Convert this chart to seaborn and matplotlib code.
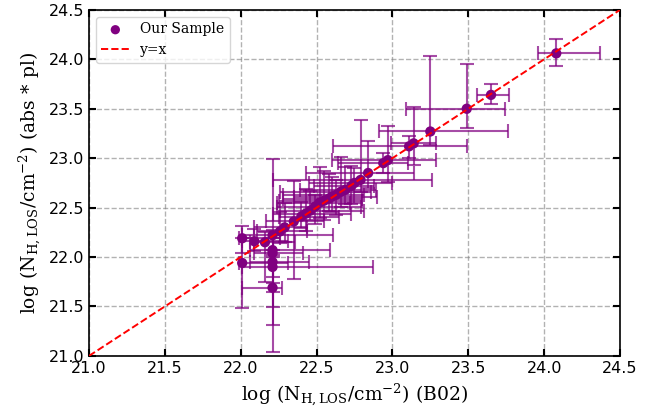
import matplotlib
matplotlib.use("Agg")
import matplotlib.pyplot as plt
import seaborn as sns
import numpy as np
import pandas as pd

# data (log N_H)
x_b02 = [24.08, 23.65, 23.49, 23.25, 23.14, 23.11, 22.97, 22.94, 22.84, 22.79,
         22.73, 22.69, 22.63, 22.58, 22.52, 22.49, 22.46, 22.40, 22.35, 22.29,
         22.26, 22.21, 22.16, 22.09, 22.01, 22.21, 22.21, 22.01, 22.21, 22.21,
         22.21, 22.55, 22.60, 22.66, 22.75, 22.43]
y_abspl = [24.06, 23.64, 23.50, 23.27, 23.15, 23.12, 22.98, 22.95, 22.85, 22.78,
           22.72, 22.68, 22.63, 22.59, 22.55, 22.51, 22.47, 22.41, 22.36, 22.30,
           22.26, 22.22, 22.15, 22.16, 22.19, 22.07, 22.04, 21.94, 21.95, 21.90,
           21.69, 22.57, 22.61, 22.66, 22.75, 22.44]
x_err_lo = [0.12, 0.09, 0.40, 0.34, 0.15, 0.50, 0.37, 0.30, 0.41, 0.58,
            0.25, 0.30, 0.35, 0.30, 0.28, 0.25, 0.20, 0.15, 0.18, 0.20,
            0.15, 0.20, 0.10, 0.08, 0.02, 0.15, 0.12, 0.02, 0.15, 0.20,
            0.20, 0.30, 0.25, 0.40, 0.30, 0.22]
x_err_hi = [0.29, 0.12, 0.25, 0.51, 0.15, 0.38, 0.32, 0.16, 0.30, 0.47,
            0.15, 0.20, 0.18, 0.22, 0.20, 0.30, 0.35, 0.25, 0.20, 0.15,
            0.18, 0.40, 0.20, 0.22, 0.25, 0.38, 0.20, 0.30, 0.24, 0.66,
            0.06, 0.25, 0.30, 0.20, 0.25, 0.30]
y_err_lo = [0.13, 0.09, 0.19, 0.14, 0.22, 0.12, 0.22, 0.10, 0.15, 0.12,
            0.18, 0.14, 0.20, 0.12, 0.15, 0.18, 0.10, 0.12, 0.58, 0.15,
            0.12, 0.20, 0.40, 0.10, 0.15, 0.27, 0.39, 0.46, 0.46, 0.59,
            0.65, 0.20, 0.15, 0.15, 0.20, 0.18]
y_err_hi = [0.15, 0.11, 0.45, 0.76, 0.37, 0.10, 0.35, 0.10, 0.32, 0.61,
            0.20, 0.23, 0.15, 0.25, 0.36, 0.12, 0.20, 0.15, 0.41, 0.25,
            0.20, 0.77, 0.10, 0.12, 0.12, 0.20, 0.15, 0.25, 0.12, 0.10,
            0.05, 0.30, 0.20, 0.35, 0.15, 0.25]

x_ticks = [21.0, 21.5, 22.0, 22.5, 23.0, 23.5, 24.0, 24.5]
y_ticks = [21.0, 21.5, 22.0, 22.5, 23.0, 23.5, 24.0, 24.5]
line_range = [21.0, 24.5]

df = pd.DataFrame({"x": x_b02, "y": y_abspl})

sns.set_style("ticks")
plt.rcParams['mathtext.fontset'] = 'dejavuserif'
plt.rcParams['text.color'] = 'black'
plt.rcParams['axes.labelcolor'] = 'black'
plt.rcParams['xtick.color'] = 'black'
plt.rcParams['ytick.color'] = 'black'
plt.rcParams['axes.edgecolor'] = 'black'

fig = plt.figure(figsize=(6.54, 4.11), dpi=100)
ax = fig.add_axes([0.136, 0.134, 0.812, 0.842])

ax.errorbar(df["x"], df["y"],
            xerr=[x_err_lo, x_err_hi], yerr=[y_err_lo, y_err_hi],
            fmt='none', ecolor='purple', alpha=0.7, elinewidth=1.5,
            capsize=5, capthick=1.5, zorder=2)
sns.scatterplot(data=df, x="x", y="y", color='purple', s=55,
                edgecolor='none', label='Our Sample', ax=ax, zorder=3)
sns.lineplot(x=line_range, y=line_range, color='red', linestyle='--',
             linewidth=1.4, label='y=x', ax=ax, zorder=4)

ax.set_xlim(21.0, 24.5)
ax.set_ylim(21.0, 24.5)
ax.set_xticks(x_ticks)
ax.set_yticks(y_ticks)
ax.set_xticklabels([f"{t:.1f}" for t in x_ticks], fontsize=11.5)
ax.set_yticklabels([f"{t:.1f}" for t in y_ticks], fontsize=11.5)
ax.tick_params(direction='in', top=True, right=True, length=5, width=1.5,
               colors='black')
ax.grid(True, linestyle='--', color='gray', alpha=0.6, linewidth=1)
for s in ax.spines.values():
    s.set_linewidth(1.2)
    s.set_color('black')

ax.set_xlabel(r'log (N$_{\rm H,LOS}$/cm$^{-2}$) (B02)',
              family='DejaVu Serif', fontsize=13.5, color='black')
ax.set_ylabel(r'log (N$_{\rm H,LOS}$/cm$^{-2}$) (abs$\,*\,$pl)',
              family='DejaVu Serif', fontsize=13.5, color='black')

leg = ax.legend(loc='upper left', prop={'family': 'DejaVu Serif', 'size': 10},
                frameon=True, markerscale=0.9)
for t in leg.get_texts():
    t.set_color('black')

fig.savefig("out.png", dpi=100)
